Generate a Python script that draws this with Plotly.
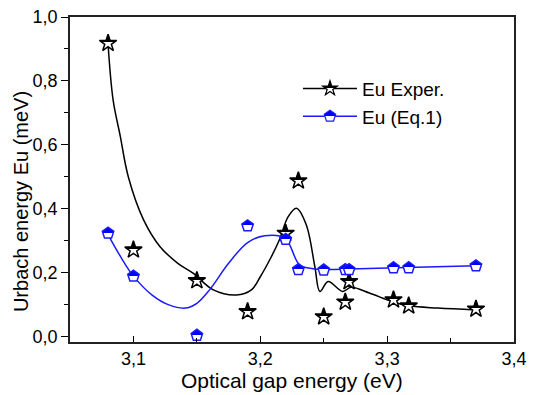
import plotly.graph_objects as go

# measured points
energy = [3.08, 3.10, 3.15, 3.19, 3.22, 3.23, 3.25, 3.267, 3.27, 3.305, 3.317, 3.37]
eu_exper = [0.918, 0.272, 0.176, 0.079, 0.324, 0.488, 0.063, 0.109, 0.173, 0.116, 0.097, 0.087]
eu_eq1 = [0.324, 0.19, 0.005, 0.347, 0.305, 0.21, 0.209, 0.21, 0.21, 0.216, 0.216, 0.222]

# smooth fitted curves
fit_exper_x = [3.08, 3.084, 3.0895, 3.096, 3.108, 3.121, 3.135, 3.147, 3.163, 3.181, 3.193, 3.2,
               3.208, 3.215, 3.222, 3.2285, 3.2363, 3.243, 3.247, 3.2535, 3.265, 3.2715, 3.286,
               3.304, 3.3175, 3.34, 3.37]
fit_exper_y = [0.915, 0.74, 0.63, 0.50, 0.366, 0.282, 0.23, 0.199, 0.147, 0.131, 0.147, 0.188,
               0.245, 0.303, 0.376, 0.402, 0.35, 0.22, 0.142, 0.173, 0.142, 0.155, 0.137,
               0.110, 0.097, 0.09, 0.084]
fit_eq1_x = [3.08, 3.09, 3.10, 3.115, 3.128, 3.1407, 3.15, 3.16, 3.175, 3.19, 3.2035, 3.2195,
             3.231, 3.2415, 3.25, 3.27, 3.30, 3.37]
fit_eq1_y = [0.32, 0.25, 0.19, 0.13, 0.10, 0.090, 0.105, 0.147, 0.23, 0.295, 0.316, 0.308,
             0.225, 0.213, 0.211, 0.212, 0.215, 0.222]

x_ticks = [3.1, 3.2, 3.3, 3.4]
y_ticks = [0.0, 0.2, 0.4, 0.6, 0.8, 1.0]
x_title = "Optical gap energy (eV)"
y_title = "Urbach energy Eu (meV)"

BLUE = "#1a1aff"
FONT = "Liberation Sans, Arial, sans-serif"

fig = go.Figure()
fig.add_trace(go.Scatter(x=fit_exper_x, y=fit_exper_y, mode="lines",
                         line=dict(color="black", width=1.5, shape="spline", smoothing=1.0),
                         showlegend=False, hoverinfo="skip"))
fig.add_trace(go.Scatter(x=fit_eq1_x, y=fit_eq1_y, mode="lines",
                         line=dict(color=BLUE, width=1.5, shape="spline", smoothing=1.0),
                         showlegend=False, hoverinfo="skip"))
fig.add_trace(go.Scatter(x=energy, y=eu_exper, mode="markers", showlegend=False,
                         marker=dict(symbol="star", size=13, color="white",
                                     line=dict(color="black", width=1.5))))
fig.add_trace(go.Scatter(x=energy, y=eu_eq1, mode="markers", showlegend=False,
                         marker=dict(symbol="pentagon", size=12, color="white",
                                     line=dict(color=BLUE, width=1.5))))
# legend entries
fig.add_trace(go.Scatter(x=[None], y=[None], mode="lines+markers", name="Eu Exper.",
                         line=dict(color="black", width=1.5),
                         marker=dict(symbol="star", size=11, color="white",
                                     line=dict(color="black", width=1.2))))
fig.add_trace(go.Scatter(x=[None], y=[None], mode="lines+markers", name="Eu (Eq.1)",
                         line=dict(color=BLUE, width=1.5),
                         marker=dict(symbol="pentagon", size=12, color="white",
                                     line=dict(color=BLUE, width=1.2))))

fig.update_layout(
    width=534, height=395,
    margin=dict(l=70, r=20, t=17, b=53),
    paper_bgcolor="white", plot_bgcolor="white",
    separators=", ",
    font=dict(family=FONT, size=18, color="black"),
    showlegend=True,
    legend=dict(x=0.5135, y=0.838, xanchor="left", yanchor="top", bgcolor="rgba(0,0,0,0)",
                font=dict(size=19), tracegroupgap=0, itemwidth=54),
    annotations=[
        dict(text=x_title, xref="paper", yref="paper", x=0.5, y=-0.117,
             xanchor="center", yanchor="middle", showarrow=False, font=dict(size=21)),
        dict(text=y_title, xref="paper", yref="paper", x=-0.11, y=0.431, textangle=-90,
             xanchor="center", yanchor="middle", showarrow=False, font=dict(size=20)),
    ],
)
fig.update_xaxes(range=[3.05, 3.4], tickvals=x_ticks, tickformat=".1f", automargin=False,
                 ticks="inside", ticklen=6, tickwidth=1.2, tickcolor="black",
                 minor=dict(dtick=0.05, tick0=3.05, ticks="inside", ticklen=4, tickcolor="black"),
                 showline=True, linecolor="#222", linewidth=1.5, mirror=True,
                 showgrid=False, zeroline=False, tickfont=dict(size=18))
fig.update_yaxes(range=[-0.016, 1.0], tickvals=y_ticks, tickformat=".1f", automargin=False,
                 ticks="outside", ticklen=7, tickwidth=1.2, tickcolor="black",
                 minor=dict(dtick=0.1, tick0=0, ticks="outside", ticklen=4, tickcolor="black"),
                 showline=True, linecolor="#222", linewidth=1.5, mirror=True,
                 showgrid=False, zeroline=False, tickfont=dict(size=18))

post_script = """
(function(){
  document.documentElement.style.margin = '0';
  document.body.style.margin = '0';
  document.body.style.padding = '0';
  var ns = 'http://www.w3.org/2000/svg';
  var gd = document.getElementById('{plot_id}');
  var gradFor = {2: 'halfBlack', 3: 'halfBlue', 4: 'halfBlack', 5: 'halfBlue'};
  function grad(defs, id, c){
    if (document.getElementById(id)) return;
    var g = document.createElementNS(ns, 'linearGradient');
    g.setAttribute('id', id); g.setAttribute('x1','0'); g.setAttribute('y1','0');
    g.setAttribute('x2','0'); g.setAttribute('y2','1');
    [['0',c],['0.5',c],['0.5','#ffffff'],['1','#ffffff']].forEach(function(s){
      var st = document.createElementNS(ns, 'stop');
      st.setAttribute('offset', s[0]); st.setAttribute('stop-color', s[1]);
      g.appendChild(st);
    });
    defs.appendChild(g);
  }
  function idxOf(el){
    var d = el.__data__;
    if (!d) return -1;
    if (Array.isArray(d)) d = d[0];
    if (Array.isArray(d)) d = d[0];
    return (d && d.trace) ? d.trace.index : -1;
  }
  function apply(){
    var svg = gd.querySelector('svg.main-svg');
    var defs = svg.querySelector('defs');
    if (!defs) { defs = document.createElementNS(ns, 'defs'); svg.insertBefore(defs, svg.firstChild); }
    grad(defs, 'halfBlack', '#000000');
    grad(defs, 'halfBlue', '#0000ff');
    gd.querySelectorAll('.scatterlayer .trace').forEach(function(t){
      var g = gradFor[idxOf(t)];
      if (!g) return;
      t.querySelectorAll('path.point').forEach(function(p){ p.style.fill = 'url(#' + g + ')'; });
    });
    gd.querySelectorAll('.legend .traces').forEach(function(t){
      var g = gradFor[idxOf(t)];
      if (!g) return;
      t.querySelectorAll('.legendpoints path').forEach(function(p){
        p.style.fill = 'url(#' + g + ')';
        p.setAttribute('transform', 'translate(32,0)');
      });
      t.querySelectorAll('.legendlines path').forEach(function(p){
        p.setAttribute('d', 'M5,0h54');
      });
    });
  }
  apply();
  gd.on('plotly_afterplot', apply);
})();
"""

fig.write_html("out.html", post_script=post_script, config={"displayModeBar": False})
